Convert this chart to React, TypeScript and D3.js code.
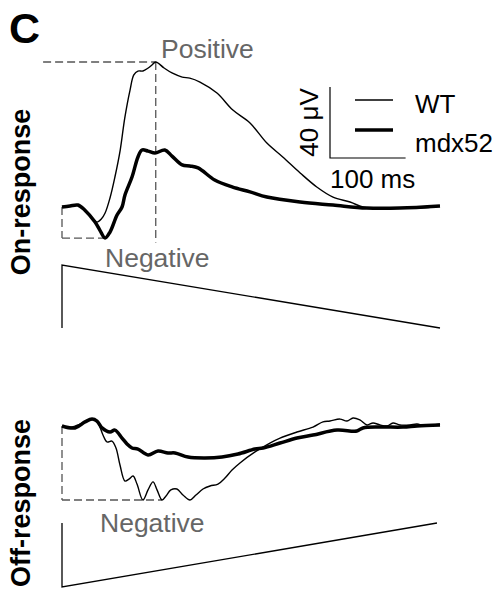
import React from "react";
import * as d3 from "d3";

// time (ms), amplitude (µV)
const onWT: [number, number][] = [
  [0, 0], [10.6, 0.6], [21, 1.1], [30, -1.7], [40, -6.2], [46, -8.5], [52, -6.8], [57, -3.4],
  [63.5, 5.1], [70, 16.9], [77, 32.1], [83, 50.1], [90, 65.9], [95, 74.4], [100.5, 76.6],
  [107, 76.6], [114, 78.3], [119, 80], [124, 81.7], [135, 78.3], [145.5, 75.5], [159, 73.2],
  [169, 72.6], [182.5, 70.4], [205, 64.2], [226, 54.6], [248.7, 47.3], [271, 36], [292, 28.2],
  [315, 19.2], [337, 11.3], [358.5, 5.6], [381, 2.8], [398, 0], [420.6, -1.1], [447, -0.6],
  [473.5, -0.6], [500, 0.6],
];
const onMdx: [number, number][] = [
  [0, 0], [10.6, 0.6], [21, 1.1], [30, -1.7], [43.7, -8.5], [50, -13], [57, -17.5], [63.5, -14.1],
  [72.8, -4.5], [79.4, 0], [83.3, 6.8], [92.6, 16.9], [100.5, 28.2], [105.8, 32.1], [113.8, 31.5],
  [123, 30.4], [136, 32.1], [145.5, 28.7], [159, 23.7], [169, 23.1], [180, 22], [202, 15.2],
  [225, 11.3], [248.7, 8.5], [271, 5.6], [315, 2.8], [358.5, 1.1], [403, -0.6], [447, -0.6], [500, 0.6],
];
const offWT: [number, number][] = [
  [0, 0], [13.2, -0.6], [23.8, 1.1], [34.4, 2.8], [41, 3.9], [47.6, 1.7], [54.2, -5.1], [59.5, -9],
  [66, -8.5], [71.4, -12.4], [76.7, -22], [83.3, -31], [88.6, -29.9], [94, -28.2], [99.2, -32.7],
  [107, -41.7], [113.8, -36], [120.4, -31.5], [125.7, -36], [132.3, -41.7], [137.6, -39.4],
  [144, -36], [152, -35.5], [160, -38.9], [169.3, -41.7], [177.2, -38.9], [186.5, -35.5],
  [195.8, -33.8], [206.3, -32.7], [215.6, -29.3], [224.9, -24.8], [235.4, -20.8], [255.3, -14.6],
  [275, -9.6], [288.4, -6.8], [310.8, -3.4], [332, -0.6], [345.2, 2.3], [354.5, 2.8], [367.7, 3.9],
  [377, 2.8], [385, 4.5], [394, 3.4], [403.4, 0.6], [411.4, 1.7], [420.6, 0.6], [430, 0],
  [437.8, 1.7], [447, 0.6], [460.3, 0.6], [469.6, 1.1], [480, 0], [500, 1.1],
];
const offMdx: [number, number][] = [
  [0, 0], [17.2, -1.1], [30.4, 2.3], [39.7, 3.9], [46.3, 2.8], [53, -1.1], [63.5, -3.4], [70, -2.3],
  [79.4, -6.8], [86, -10.1], [92.6, -12.4], [100.5, -13], [113.8, -16.3], [127, -14.1],
  [140.2, -15.2], [149.5, -15.2], [166.7, -17.5], [189, -18], [211.6, -17.5], [232.8, -15.8],
  [255.3, -13], [266, -12.4], [288.4, -9.6], [310.8, -6.8], [332, -5.1], [363.8, -2.3], [390, -2.8],
  [398, -1.1], [420.6, -0.6], [451, -0.6], [469.6, 0], [500, 0.6],
];
// stimulus ramps (normalised intensity)
const stimOn: [number, number][] = [[0, 0], [0, 1], [500, 0]];
const stimOff: [number, number][] = [[0, 1], [0, 0], [496, 1]];

const seriesNames = ["WT", "mdx52"];
const scaleBarMs = 100;
const scaleBarUV = 40;
const annotations = { positive: "Positive", negative: "Negative" };
const panelLabels = ["On-response", "Off-response"];

export default function App() {
  const W = 496, H = 589;
  const x = d3.scaleLinear().domain([0, 500]).range([62, 440]);
  const yOn = d3.scaleLinear().domain([0, 40]).range([207, 136]);
  const yOff = d3.scaleLinear().domain([0, 40]).range([426, 355]);
  const sOn = d3.scaleLinear().domain([0, 1]).range([328, 265]);
  const sOff = d3.scaleLinear().domain([0, 1]).range([587, 523]);

  const mk = (ys: d3.ScaleLinear<number, number>) =>
    d3.line<[number, number]>().x((d) => x(d[0])).y((d) => ys(d[1])).curve(d3.curveCatmullRom.alpha(0.5));
  const mkLin = (ys: d3.ScaleLinear<number, number>) =>
    d3.line<[number, number]>().x((d) => x(d[0])).y((d) => ys(d[1]));

  const font = "'Liberation Sans', Arial, sans-serif";
  const gray = "#666";
  const dash = "8,4";

  const peak = onWT.reduce((a, b) => (b[1] > a[1] ? b : a));
  const trough = onMdx.reduce((a, b) => (b[1] < a[1] ? b : a));
  const offTrough = offWT.reduce((a, b) => (b[1] < a[1] ? b : a));

  const sbX = 330;
  const sbY = 158;
  const sbW = x(scaleBarMs) - x(0);
  const sbH = yOn(0) - yOn(scaleBarUV);

  return (
    <svg width={W} height={H} style={{ position: "absolute", left: 0, top: 0, background: "#fff" }} fontFamily={font}>
      <text x={9} y={43} fontSize={43} fontWeight="bold">C</text>

      {/* panel labels */}
      <text transform="translate(30,192) rotate(-90)" textAnchor="middle" fontSize={27} fontWeight="bold">{panelLabels[0]}</text>
      <text transform="translate(30,503) rotate(-90)" textAnchor="middle" fontSize={27} fontWeight="bold">{panelLabels[1]}</text>

      {/* annotations */}
      <g stroke="#555" strokeWidth={1.3} strokeDasharray={dash} fill="none">
        <line x1={x(-25)} x2={x(peak[0])} y1={yOn(peak[1])} y2={yOn(peak[1])} />
        <line x1={x(peak[0])} x2={x(peak[0])} y1={yOn(peak[1])} y2={yOn(-20)} />
        <line x1={x(0)} x2={x(0)} y1={yOn(0)} y2={yOn(trough[1])} />
        <line x1={x(0)} x2={x(trough[0])} y1={yOn(trough[1])} y2={yOn(trough[1])} />
        <line x1={x(0)} x2={x(0)} y1={yOff(0)} y2={yOff(offTrough[1])} />
        <line x1={x(0)} x2={x(132)} y1={yOff(offTrough[1])} y2={yOff(offTrough[1])} />
      </g>
      <text x={161} y={58} fontSize={26.5} fill={gray}>{annotations.positive}</text>
      <text x={105} y={267} fontSize={26.5} fill={gray}>{annotations.negative}</text>
      <text x={100} y={532} fontSize={26.5} fill={gray}>{annotations.negative}</text>

      {/* traces */}
      <path d={mk(yOn)(onMdx) ?? ""} fill="none" stroke="#000" strokeWidth={3.5} strokeLinejoin="round" />
      <path d={mk(yOn)(onWT) ?? ""} fill="none" stroke="#000" strokeWidth={1.4} strokeLinejoin="round" />
      <path d={mk(yOff)(offMdx) ?? ""} fill="none" stroke="#000" strokeWidth={3.5} strokeLinejoin="round" />
      <path d={mk(yOff)(offWT) ?? ""} fill="none" stroke="#000" strokeWidth={1.4} strokeLinejoin="round" />

      {/* stimuli */}
      <path d={mkLin(sOn)(stimOn) ?? ""} fill="none" stroke="#000" strokeWidth={1.3} />
      <path d={mkLin(sOff)(stimOff) ?? ""} fill="none" stroke="#000" strokeWidth={1.3} />

      {/* scale bar */}
      <path d={`M${sbX},${sbY - sbH}V${sbY}H${sbX + sbW}`} fill="none" stroke="#000" strokeWidth={1.2} />
      <text transform={`translate(318,${sbY - sbH / 2}) rotate(-90)`} textAnchor="middle" fontSize={26}>{`${scaleBarUV} μV`}</text>
      <text x={330} y={188} fontSize={26}>{`${scaleBarMs} ms`}</text>

      {/* legend */}
      <line x1={355} x2={393} y1={100} y2={100} stroke="#000" strokeWidth={1.4} />
      <line x1={355} x2={393} y1={130} y2={130} stroke="#000" strokeWidth={3.5} />
      <text x={415} y={113} fontSize={26}>{seriesNames[0]}</text>
      <text x={415} y={152} fontSize={26}>{seriesNames[1]}</text>
    </svg>
  );
}
